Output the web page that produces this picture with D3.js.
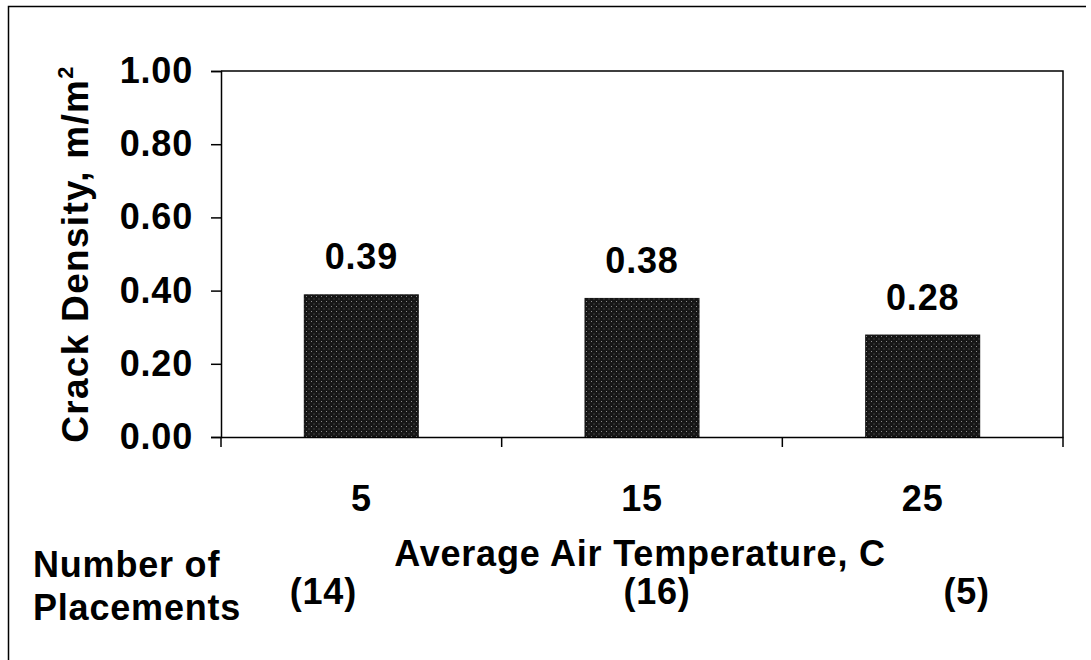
<!DOCTYPE html>
<html lang="en">
<head>
    <meta charset="UTF-8">
    <title>Crack Density vs Average Air Temperature</title>
    <script src="https://cdn.jsdelivr.net/npm/d3@7"></script>
    <style>
        body { margin: 0; background: #fff; }
        text { font-family: "Liberation Sans", Arial, sans-serif; font-weight: bold; fill: #000; letter-spacing: 0.8px; }
    </style>
</head>
<body>
    <div id="chart"></div>
    <script>
        // data
        const categories = ["5", "15", "25"];
        const crackDensity = [0.39, 0.38, 0.28];
        const placements = ["(14)", "(16)", "(5)"];
        const yTicks = [0, 0.2, 0.4, 0.6, 0.8, 1.0];

        const width = 1091;
        const height = 660;
        const margin = { top: 71, right: 28, bottom: 223, left: 221 };
        const fontSize = 36;

        const svg = d3.select("#chart").append("svg")
            .attr("width", width).attr("height", height);

        // stippled dark fill like the scanned bars
        const pat = svg.append("defs").append("pattern")
            .attr("id", "stipple").attr("patternUnits", "userSpaceOnUse")
            .attr("width", 5).attr("height", 5);
        pat.append("rect").attr("width", 5).attr("height", 5).attr("fill", "#161616");
        pat.append("rect").attr("x", 1).attr("y", 1).attr("width", 1).attr("height", 1).attr("fill", "#8a8a8a");
        pat.append("rect").attr("x", 3.5).attr("y", 3.5).attr("width", 1).attr("height", 1).attr("fill", "#6a6a6a");

        // outer frame (left + top only, like the scan)
        svg.append("path")
            .attr("d", `M8.5,660 V6.5 H1086`)
            .attr("fill", "none").attr("stroke", "#000").attr("stroke-width", 1.5);

        const x = d3.scaleBand()
            .domain(categories)
            .range([margin.left, width - margin.right])
            .padding(0);

        const y = d3.scaleLinear()
            .domain([0, 1])
            .range([height - margin.bottom, margin.top]);

        const barW = x.bandwidth() * 0.41;

        // plot box: top and right edge
        svg.append("path")
            .attr("d", `M${margin.left},${y(1)} H${width - margin.right} V${y(0)}`)
            .attr("fill", "none").attr("stroke", "#000").attr("stroke-width", 1.5);

        // bars
        svg.selectAll("rect.bar").data(crackDensity).enter().append("rect")
            .attr("class", "bar")
            .attr("x", (d, i) => x(categories[i]) + (x.bandwidth() - barW) / 2)
            .attr("y", d => y(d))
            .attr("width", barW)
            .attr("height", d => y(0) - y(d))
            .attr("fill", "url(#stipple)");

        // value labels
        svg.selectAll("text.val").data(crackDensity).enter().append("text")
            .attr("class", "val")
            .attr("x", (d, i) => x(categories[i]) + x.bandwidth() / 2)
            .attr("y", d => y(d) - 25)
            .attr("text-anchor", "middle")
            .attr("font-size", fontSize)
            .text(d => d.toFixed(2));

        // y axis
        const yAxis = svg.append("g")
            .attr("transform", `translate(${margin.left},0)`)
            .call(d3.axisLeft(y).tickValues(yTicks).tickFormat(d3.format(".2f")).tickSize(10).tickPadding(18));
        yAxis.select(".domain").attr("stroke-width", 1.5);
        yAxis.selectAll(".tick line").attr("stroke-width", 1.5);
        yAxis.selectAll(".tick text").attr("font-size", fontSize).attr("font-family", null);

        // x axis: ticks at category boundaries
        const xAxis = svg.append("g")
            .attr("transform", `translate(0,${y(0)})`)
            .call(d3.axisBottom(x).tickSize(0).tickPadding(48));
        xAxis.select(".domain").attr("stroke-width", 1.5);
        xAxis.selectAll(".tick line").remove();
        xAxis.selectAll(".tick text").attr("font-size", fontSize).attr("font-family", null);

        const bounds = categories.map(c => x(c)).concat([x(categories[categories.length - 1]) + x.bandwidth()]);
        xAxis.selectAll("line.sep").data(bounds).enter().append("line")
            .attr("class", "sep")
            .attr("x1", d => d).attr("x2", d => d)
            .attr("y1", 0).attr("y2", 10)
            .attr("stroke", "#000").attr("stroke-width", 1.5);

        // axis titles
        svg.append("text")
            .attr("transform", `translate(88,${(y(0) + y(1)) / 2}) rotate(-90)`)
            .attr("text-anchor", "middle")
            .attr("font-size", 37)
            .style("letter-spacing", "1.3px")
            .text("Crack Density, m/m")
            .append("tspan")
            .attr("font-size", 22)
            .attr("dy", -15)
            .text("2");

        svg.append("text")
            .attr("x", (margin.left + width - margin.right) / 2 - 2)
            .attr("y", 566)
            .attr("text-anchor", "middle")
            .attr("font-size", fontSize)
            .text("Average Air Temperature, C");

        svg.append("text")
            .attr("x", 33).attr("y", 577)
            .attr("font-size", fontSize)
            .text("Number of");
        svg.append("text")
            .attr("x", 33).attr("y", 620)
            .attr("font-size", fontSize)
            .text("Placements");

        // placement counts, loosely placed under each category as in the source
        const countShift = [-38, 15, 44];
        svg.selectAll("text.count").data(placements).enter().append("text")
            .attr("class", "count")
            .attr("x", (d, i) => x(categories[i]) + x.bandwidth() / 2 + countShift[i])
            .attr("y", 604)
            .attr("text-anchor", "middle")
            .attr("font-size", fontSize)
            .text(d => d);
    </script>
</body>
</html>
